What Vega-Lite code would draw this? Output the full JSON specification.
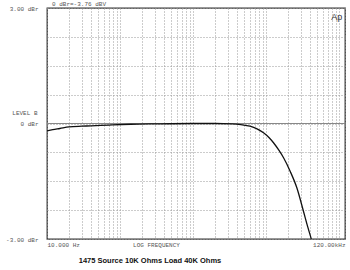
{
  "$schema": "https://vega.github.io/schema/vega-lite/v6.json",
  "width": 298,
  "height": 231,
  "autosize": {"type": "none"},
  "padding": {"left": 47, "top": 8, "right": 5, "bottom": 31},
  "background": "white",
  "config": {
    "view": {"stroke": "#333", "strokeWidth": 1.3},
    "font": "Liberation Mono"
  },
  "title": {
    "text": "1475 Source 10K Ohms Load 40K Ohms",
    "orient": "bottom",
    "anchor": "middle",
    "dx": -46,
    "offset": 10,
    "font": "Liberation Sans",
    "fontSize": 7.5,
    "fontWeight": "bold",
    "color": "#111"
  },
  "datasets": {
    "curve": [
      {"f": 10, "db": -0.19},
      {"f": 12, "db": -0.16},
      {"f": 15, "db": -0.13},
      {"f": 20, "db": -0.09},
      {"f": 30, "db": -0.07},
      {"f": 40, "db": -0.06},
      {"f": 70, "db": -0.04},
      {"f": 140, "db": -0.02},
      {"f": 300, "db": -0.01},
      {"f": 1000, "db": 0.0},
      {"f": 2000, "db": 0.0},
      {"f": 3400, "db": -0.01},
      {"f": 4500, "db": -0.03},
      {"f": 6000, "db": -0.07},
      {"f": 7500, "db": -0.14},
      {"f": 9200, "db": -0.24},
      {"f": 11000, "db": -0.37},
      {"f": 12600, "db": -0.5},
      {"f": 15000, "db": -0.7},
      {"f": 17300, "db": -0.89},
      {"f": 21300, "db": -1.24},
      {"f": 26300, "db": -1.67},
      {"f": 32400, "db": -2.28},
      {"f": 37000, "db": -2.68},
      {"f": 41500, "db": -3.0}
    ],
    "ref": [{"f": 10, "db": 0}, {"f": 120000, "db": 0}],
    "notes": [
      {"f": 11.7, "db": 3, "label": "0 dBr=-3.76 dBV", "kind": "top"},
      {"f": 78000, "db": 2.77, "label": "Ap", "kind": "logo"}
    ]
  },
  "encoding": {
    "x": {
      "field": "f",
      "type": "quantitative",
      "scale": {"type": "log", "domain": [10, 120000], "nice": false},
      "axis": {
        "values": [10, 20, 30, 40, 50, 60, 70, 80, 90, 100, 200, 300, 400, 500, 600, 700, 800, 900, 1000, 2000, 3000, 4000, 5000, 6000, 7000, 8000, 9000, 10000, 20000, 30000, 40000, 50000, 60000, 70000, 80000, 90000, 100000, 120000],
        "labelExpr": "datum.value == 10 ? '10.000 Hz' : (datum.value == 120000 ? '120.00kHz' : '')",
        "labelFlush": true,
        "labelOverlap": false,
        "labelPadding": 2,
        "labelFontSize": 6,
        "labelFont": "Liberation Mono",
        "labelColor": "#555",
        "ticks": false,
        "domain": false,
        "grid": true,
        "gridColor": "#999",
        "gridDash": [1, 2],
        "gridWidth": 1,
        "title": "LOG FREQUENCY",
        "titleFont": "Liberation Mono",
        "titleFontSize": 6,
        "titleFontWeight": "normal",
        "titleColor": "#555",
        "titleX": 109,
        "titleY": 2,
        "titleBaseline": "top",
        "titleAlign": "center"
      }
    },
    "y": {
      "field": "db",
      "type": "quantitative",
      "scale": {"domain": [-3, 3], "nice": false, "zero": false},
      "axis": {
        "values": [-3, -2.25, -1.5, -0.75, 0, 0.75, 1.5, 2.25, 3],
        "labelExpr": "datum.value == 3 ? '3.00 dBr' : (datum.value == 0 ? '0 dBr' : (datum.value == -3 ? '-3.00 dBr' : ''))",
        "labelOverlap": false,
        "labelPadding": 9,
        "labelFontSize": 6,
        "labelFont": "Liberation Mono",
        "labelColor": "#555",
        "labelBaseline": "middle",
        "ticks": false,
        "domain": false,
        "grid": true,
        "gridColor": "#999",
        "gridDash": [1, 2],
        "gridWidth": 1,
        "title": "LEVEL B",
        "titleFont": "Liberation Mono",
        "titleFontSize": 6,
        "titleFontWeight": "normal",
        "titleColor": "#555",
        "titleAngle": 0,
        "titleAlign": "right",
        "titleBaseline": "middle",
        "titleX": -10,
        "titleY": 104
      }
    }
  },
  "layer": [
    {
      "data": {"name": "ref"},
      "mark": {"type": "line", "color": "#888", "strokeWidth": 1}
    },
    {
      "data": {"name": "curve"},
      "mark": {"type": "line", "color": "#111", "strokeWidth": 1.3, "interpolate": "monotone", "clip": true}
    },
    {
      "data": {"name": "notes"},
      "transform": [{"filter": "datum.kind == 'top'"}],
      "mark": {"type": "text", "align": "left", "baseline": "bottom", "dy": -1, "font": "Liberation Mono", "fontSize": 6, "color": "#555"},
      "encoding": {"text": {"field": "label"}}
    },
    {
      "data": {"name": "notes"},
      "transform": [{"filter": "datum.kind == 'logo'"}],
      "mark": {"type": "text", "align": "left", "baseline": "middle", "font": "Liberation Sans", "fontSize": 9, "color": "#333"},
      "encoding": {"text": {"field": "label"}}
    }
  ]
}
